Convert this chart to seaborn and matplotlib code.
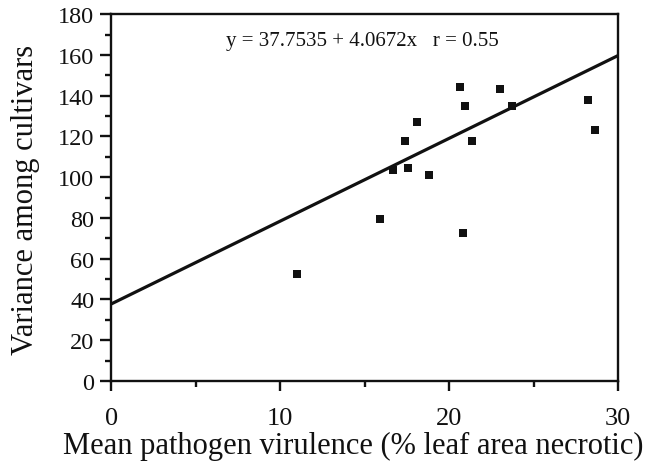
import numpy as np
import pandas as pd
import seaborn as sns
import matplotlib.pyplot as plt
from matplotlib.ticker import MultipleLocator

# values
virulence = [11.0, 15.9, 16.7, 17.4, 17.55, 18.1, 18.8, 20.67, 20.8,
             20.95, 21.38, 23.03, 23.71, 28.2, 28.65]
variance = [52.5, 79.7, 103.5, 117.9, 104.3, 126.9, 101.0, 144.4, 72.8,
            134.9, 117.9, 143.3, 134.9, 137.7, 123.2]
intercept = 37.7535
slope = 4.0672
r_value = 0.55

df = pd.DataFrame({'x': virulence, 'y': variance})

sns.set_theme(style='ticks')
plt.rcParams['font.family'] = ['Liberation Serif', 'DejaVu Serif']

fig = plt.figure(figsize=(6.5, 4.64), dpi=100)
ax = fig.add_axes([0.171, 0.177, 0.780, 0.790])

xlim = (0, 30)
ylim = (0, 180)

line_x = np.linspace(xlim[0], xlim[1], 2)
line_df = pd.DataFrame({'x': line_x, 'y': intercept + slope * line_x})
sns.lineplot(x='x', y='y', data=line_df, color='#111111', linewidth=2.3, ax=ax)

sns.scatterplot(x='x', y='y', data=df, marker='s', s=30, color='#111111',
                edgecolor='#111111', linewidth=0, ax=ax, zorder=3)

ax.set_xlim(*xlim)
ax.set_ylim(*ylim)
ax.xaxis.set_major_locator(MultipleLocator(10))
ax.xaxis.set_minor_locator(MultipleLocator(5))
ax.yaxis.set_major_locator(MultipleLocator(20))
ax.yaxis.set_minor_locator(MultipleLocator(10))

for side in ['left', 'bottom', 'top', 'right']:
    ax.spines[side].set_visible(True)
    ax.spines[side].set_linewidth(1.7)
    ax.spines[side].set_color('#111111')

ax.tick_params(axis='y', which='major', direction='out', length=8, width=1.7,
               labelsize=17.5, pad=4, colors='#111111')
ax.tick_params(axis='y', which='minor', direction='out', length=4.5, width=1.7,
               colors='#111111')
ax.tick_params(axis='x', which='major', direction='out', length=7, width=1.7,
               labelsize=19, pad=12, colors='#111111')
ax.tick_params(axis='x', which='minor', direction='out', length=4, width=1.7,
               colors='#111111')

ax.set_xlabel('Mean pathogen virulence (% leaf area necrotic)', fontsize=22,
              color='#111111')
ax.set_ylabel('Variance among cultivars', fontsize=22, color='#111111')
ax.xaxis.set_label_coords(0.478, -0.137)
ax.yaxis.set_label_coords(-0.14, 0.495)

ax.text(14.85, 167, f'y = {intercept} + {slope}x   r = {r_value}',
        fontsize=15, ha='center', va='center', color='#111111')

fig.savefig('out.png', dpi=100)
